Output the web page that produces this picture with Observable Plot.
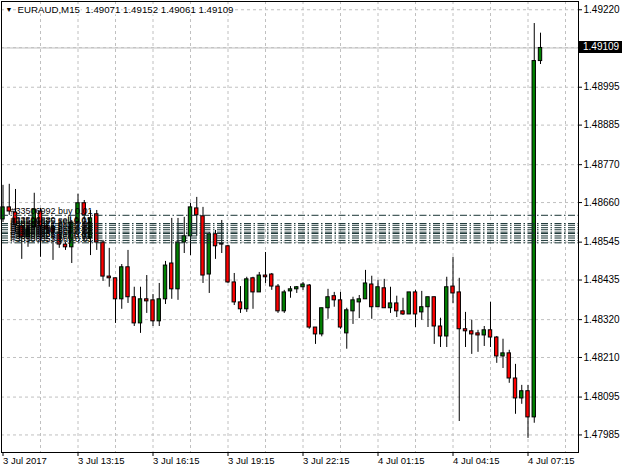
<!DOCTYPE html>
<html><head><meta charset="utf-8">
<script src="https://cdn.jsdelivr.net/npm/d3@7"></script>
<script src="https://cdn.jsdelivr.net/npm/@observablehq/plot@0.6"></script>
<style>
body{margin:0;background:#fff}
svg{display:block}
#chart{position:relative;width:625px;height:469px}
#price{position:absolute;background:#000;color:#fff;font:10px 'Liberation Sans',Arial,sans-serif;line-height:12px;height:12px;width:39px;padding-left:4px;white-space:nowrap}
</style>
</head><body><div id="chart"><div id="price"></div></div>
<script>
// M15 bars, EURAUD, 3 Jul 2017 10:15 .. 4 Jul 2017 07:45
const open = [
1.48611,1.48646,1.48631,1.48591,1.48559,1.48588,1.48634,1.48591,1.48585,1.48573,
1.48538,1.48530,1.48602,1.48658,1.48556,1.48626,1.48544,1.48445,1.48440,1.48379,
1.48472,1.48385,1.48309,1.48379,1.48376,1.48315,1.48379,1.48483,1.48408,1.48544,
1.48562,1.48643,1.48620,1.48451,1.48568,1.48541,1.48533,1.48428,1.48370,1.48350,
1.48440,1.48399,1.48448,1.48451,1.48416,1.48344,1.48402,1.48408,1.48414,1.48419,
1.48297,1.48277,1.48353,1.48388,1.48376,1.48280,1.48344,1.48370,1.48379,1.48422,
1.48356,1.48411,1.48353,1.48367,1.48344,1.48335,1.48399,1.48341,1.48356,1.48385,
1.48300,1.48271,1.48416,1.48399,1.48292,1.48286,1.48280,1.48274,1.48289,1.48268,
1.48213,1.48222,1.48149,1.48091,1.48112,1.48036,1.49071];
const high = [
1.48710,1.48713,1.48698,1.48608,1.48599,1.48687,1.48643,1.48608,1.48594,1.48585,
1.48544,1.48608,1.48684,1.48666,1.48637,1.48637,1.48550,1.48527,1.48440,1.48480,
1.48521,1.48414,1.48414,1.48448,1.48393,1.48425,1.48489,1.48614,1.48614,1.48617,
1.48658,1.48675,1.48646,1.48573,1.48579,1.48608,1.48536,1.48454,1.48416,1.48443,
1.48443,1.48457,1.48515,1.48454,1.48422,1.48405,1.48416,1.48416,1.48428,1.48422,
1.48297,1.48353,1.48408,1.48399,1.48399,1.48353,1.48385,1.48390,1.48463,1.48446,
1.48434,1.48437,1.48414,1.48388,1.48382,1.48399,1.48405,1.48402,1.48385,1.48385,
1.48324,1.48443,1.48501,1.48440,1.48341,1.48318,1.48289,1.48300,1.48370,1.48271,
1.48263,1.48231,1.48190,1.48129,1.48129,1.49180,1.49152];
const low = [
1.48602,1.48623,1.48573,1.48495,1.48530,1.48579,1.48501,1.48559,1.48492,1.48527,
1.48521,1.48483,1.48579,1.48550,1.48506,1.48521,1.48431,1.48414,1.48309,1.48350,
1.48367,1.48300,1.48280,1.48338,1.48300,1.48300,1.48364,1.48379,1.48376,1.48512,
1.48506,1.48562,1.48425,1.48396,1.48495,1.48512,1.48425,1.48361,1.48338,1.48341,
1.48350,1.48399,1.48425,1.48405,1.48338,1.48338,1.48382,1.48396,1.48405,1.48292,
1.48248,1.48270,1.48321,1.48356,1.48292,1.48234,1.48306,1.48323,1.48379,1.48321,
1.48356,1.48353,1.48338,1.48326,1.48332,1.48335,1.48297,1.48318,1.48297,1.48248,
1.48239,1.48239,1.48367,1.48024,1.48239,1.48219,1.48225,1.48242,1.48239,1.48193,
1.48178,1.48135,1.48045,1.48074,1.47975,1.48019,1.49061];
const close = [
1.48646,1.48634,1.48594,1.48559,1.48582,1.48640,1.48591,1.48582,1.48573,1.48538,
1.48530,1.48602,1.48658,1.48623,1.48614,1.48544,1.48445,1.48440,1.48379,1.48472,
1.48385,1.48309,1.48379,1.48373,1.48315,1.48379,1.48477,1.48408,1.48544,1.48562,
1.48646,1.48623,1.48448,1.48568,1.48533,1.48538,1.48428,1.48370,1.48350,1.48437,
1.48399,1.48448,1.48443,1.48416,1.48344,1.48399,1.48408,1.48414,1.48422,1.48297,
1.48277,1.48353,1.48385,1.48376,1.48297,1.48347,1.48376,1.48379,1.48425,1.48356,
1.48414,1.48353,1.48367,1.48344,1.48335,1.48399,1.48335,1.48356,1.48385,1.48300,
1.48271,1.48414,1.48396,1.48292,1.48286,1.48277,1.48274,1.48289,1.48268,1.48213,
1.48222,1.48149,1.48091,1.48112,1.48036,1.49071,1.49109];

const xTickIdx = [0,12,24,36,48,60,72,84];
const xLabels = ["3 Jul 2017","3 Jul 13:15","3 Jul 16:15","3 Jul 19:15","3 Jul 22:15","4 Jul 01:15","4 Jul 04:15","4 Jul 07:15"];
const xGridIdx = [6,12,18,24,30,36,42,48,54,60,66,72,78,84,90];
const yTicks = [1.49220,1.49110,1.48995,1.48885,1.48770,1.48660,1.48545,1.48435,1.48320,1.48210,1.48095,1.47985];
const yLabels = ["1.49220","1.49110","1.48995","1.48885","1.48770","1.48660","1.48545","1.48435","1.48320","1.48210","1.48095","1.47985"];

const orderPrices = [1.48623,1.48599,1.48594,1.48587,1.48581,1.48574,1.48570,1.48563,1.48557,1.48550,1.48543];
const orderLabels = ["#33506992 buy 0.01","#33506880 sell 0.01","#33506875 sell 0.01","#33506871 buy 0.01","#33506866 sell 0.01","#33506859 buy 0.01","#33506851 sell 0.01","#33506847 buy 0.01","#33506836 sell 0.01","#33506824 sell 0.01","#33506053 buy 0.01"];

const symbol = "EURAUD,M15";
const lastOHLC = ["1.49071","1.49152","1.49061","1.49109"];

const bars = open.map((o, i) => ({i, open: o, high: high[i], low: low[i], close: close[i]}));
const orders = orderPrices.map((p, k) => ({price: p, label: orderLabels[k]}));
const lastClose = close[close.length - 1];
const FONT = "'Liberation Sans', Arial, sans-serif";
const yAxisTicks = yTicks.filter(t => Math.abs(t - lastClose) > 0.0002);

const W = 625, H = 469, MR = 47;
const chart = Plot.plot({
  width: W, height: H,
  marginLeft: 1, marginRight: MR, marginTop: 1, marginBottom: 17,
  style: {fontFamily: FONT, fontSize: "10px", background: "#fff", color: "#000"},
  x: {type: "linear", domain: [-0.24, 92.08], label: null},
  y: {type: "linear", domain: [1.47934, 1.49244], label: null},
  marks: [
    Plot.gridX(xGridIdx, {stroke: "#c0c0c0", strokeOpacity: 1, strokeDasharray: "3,3"}),
    Plot.gridY(yTicks, {stroke: "#c0c0c0", strokeOpacity: 1, strokeDasharray: "3,3"}),
    Plot.ruleY([lastClose], {stroke: "#c0c0c0", strokeOpacity: 1}),
    Plot.ruleX(bars, {x: "i", y1: "low", y2: "high", stroke: "#000"}),
    Plot.rectY(bars.filter(d => d.close >= d.open), {x1: d => d.i - 0.27, x2: d => d.i + 0.27, y1: "open", y2: "close", fill: "#008000", stroke: "#000"}),
    Plot.rectY(bars.filter(d => d.close < d.open), {x1: d => d.i - 0.27, x2: d => d.i + 0.27, y1: "open", y2: "close", fill: "#ff0000", stroke: "#000"}),
    Plot.ruleY(orders, {y: "price", stroke: "#173333", strokeDasharray: "7,2.5,1.5,2.5"}),
    Plot.text(orders, {y: "price", text: "label", frameAnchor: "left", textAnchor: "start", lineAnchor: "bottom", dx: 9, dy: -1, fontSize: 9, fill: "#000"}),
    Plot.text(["▼"], {frameAnchor: "top-left", textAnchor: "start", lineAnchor: "middle", dx: 4, dy: 8, fontSize: 7, fill: "#000"}),
    Plot.text([symbol + "  " + lastOHLC.join(" ")], {frameAnchor: "top-left", textAnchor: "start", lineAnchor: "middle", dx: 16, dy: 8, fontSize: 9.7, fill: "#000", stroke: "#fff", strokeWidth: 3}),
    Plot.axisY(yAxisTicks, {anchor: "right", tickSize: 3, tickPadding: 2, tickFormat: d => yLabels[yTicks.indexOf(d)], fontSize: 10, label: null}),
    Plot.axisX(xTickIdx, {anchor: "bottom", tickSize: 4, tickPadding: 1, tickFormat: d => xLabels[xTickIdx.indexOf(d)], textAnchor: "start", fontSize: 9.5, label: null}),
    Plot.frame({stroke: "#000"})
  ]
});

const host = document.getElementById("chart");
host.insertBefore(chart, host.firstChild);

// current price marker on the price axis, positioned with Plot's y scale
const yPix = chart.scale("y").apply(lastClose);
const tag = document.getElementById("price");
tag.style.left = (W - MR + 1) + "px";
tag.style.top = Math.round(yPix - 6) + "px";
tag.textContent = lastClose.toFixed(5);
</script>
</body></html>
